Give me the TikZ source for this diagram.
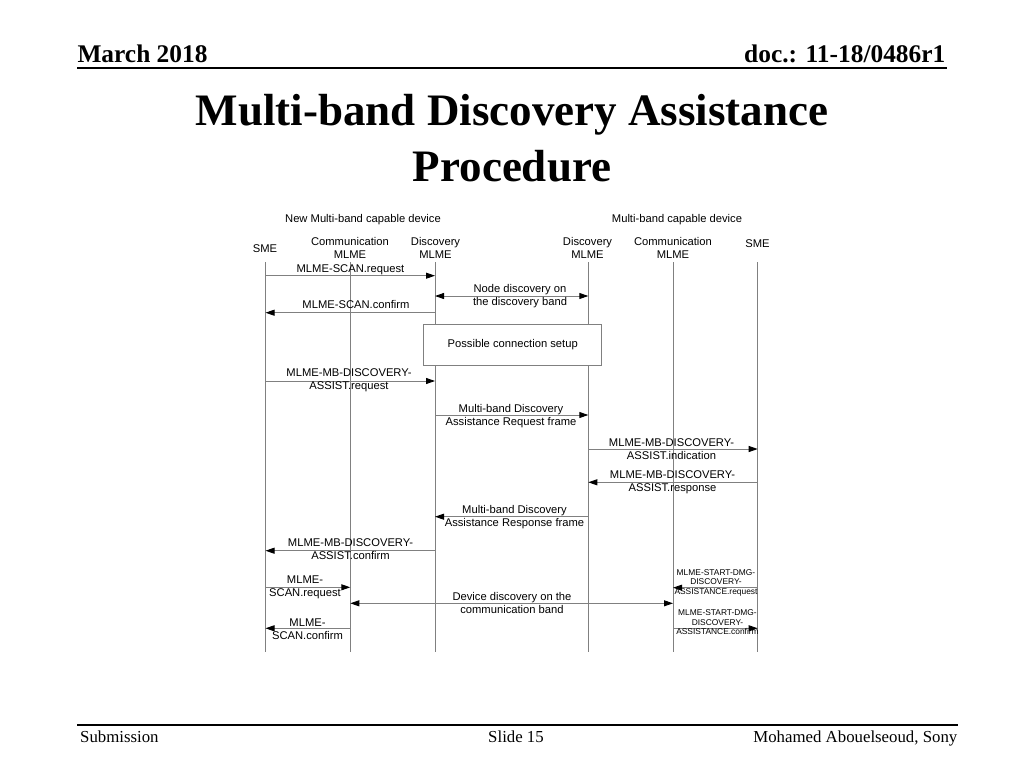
\documentclass[tikz,border=0pt]{standalone}
\usepackage{fontspec}
\setmainfont{Liberation Serif}
\newfontfamily\diagfont{Liberation Sans}
\usetikzlibrary{arrows.meta}
\definecolor{lifegray}{RGB}{128,128,128}
\begin{document}
\begin{tikzpicture}[x=1pt,y=-1pt,
  life/.style={draw=lifegray, line width=0.9pt},
  tipA/.tip={Triangle[length=9pt,width=6pt,color=black]},
  msg/.style={draw=lifegray, line width=0.9pt, -tipA},
  dmsg/.style={draw=lifegray, line width=0.9pt, tipA-tipA},
  lbl/.style={font=\diagfont\fontsize{11.2}{13}\selectfont, align=center, inner sep=0pt,
    execute at begin node=\strut, execute at end node=\strut, yshift=-1.2pt},
  slbl/.style={font=\diagfont\fontsize{8.4}{9.8}\selectfont, align=center, inner sep=0pt,
    execute at begin node=\strut, execute at end node=\strut, yshift=-1pt},
  hdr/.style={font=\fontsize{25.4}{30}\selectfont\bfseries, inner sep=0pt},
  ttl/.style={font=\fontsize{45}{56}\selectfont\bfseries, inner sep=0pt},
  ftr/.style={font=\fontsize{16.8}{20}\selectfont, inner sep=0pt},
  boxst/.style={draw=lifegray, line width=0.9pt, fill=white, minimum width=178pt,
    minimum height=40.7pt, inner sep=0pt, font=\diagfont\fontsize{11.2}{13}\selectfont}
]
\useasboundingbox (0,0) rectangle (1024,768);
\fill[white] (0,0) rectangle (1024,768);

% header
\node[hdr, anchor=base west] (hdate) at (77.3,62.3) {March 2018};
\node[hdr, anchor=base east] (hdoc) at (945.5,62.3) {doc.: 11-18/0486r1};
\coordinate (hl1) at (77,67.7);
\coordinate (hl2) at (947,67.7);
\draw[line width=2pt] (hl1) -- (hl2);

% title
\node[ttl, anchor=base] (title) at (512,125) {Multi-band Discovery Assistance};
\node[ttl, anchor=base] (title2) at (512,181) {Procedure};

% footer
\coordinate (fl1) at (77,724.7);
\coordinate (fl2) at (958,724.7);
\draw[line width=1.6pt] (fl1) -- (fl2);
\node[ftr, anchor=base west] (fsub) at (80,742) {Submission};
\node[ftr, anchor=base] (fslide) at (516,742) {Slide 15};
\node[ftr, anchor=base east] (fauth) at (957.5,742) {Mohamed Abouelseoud, Sony};

% group labels
\node[lbl] (grpL) at (363,219) {New Multi-band capable device};
\node[lbl] (grpR) at (677,219) {Multi-band capable device};

% lifeline heads
\node[lbl] (hsmeL) at (265,249) {SME};
\node[lbl] (hcomL) at (350,248.5) {Communication\\MLME};
\node[lbl] (hdisL) at (435.5,248.5) {Discovery\\MLME};
\node[lbl] (hdisR) at (587.5,248.5) {Discovery\\MLME};
\node[lbl] (hcomR) at (673,248.5) {Communication\\MLME};
\node[lbl] (hsmeR) at (757.5,244) {SME};

% lifelines
\coordinate (smeL) at (265.5,262);
\coordinate (comL) at (350.3,262);
\coordinate (disL) at (435,262);
\coordinate (disR) at (588.3,262);
\coordinate (comR) at (673,262);
\coordinate (smeR) at (757.7,262);
\coordinate (bot) at (0,652);
\foreach \c in {smeL,comL,disL,disR,comR,smeR}
  \draw[life] (\c) -- (\c |- bot);

% message levels
\coordinate (y1) at (0,275.7);
\coordinate (y2) at (0,296);
\coordinate (y3) at (0,312.7);
\coordinate (y5) at (0,381);
\coordinate (y6) at (0,415);
\coordinate (y7) at (0,449);
\coordinate (y8) at (0,482.3);
\coordinate (y9) at (0,516.7);
\coordinate (y10) at (0,550.7);
\coordinate (y11) at (0,587.3);
\coordinate (y12) at (0,603.3);
\coordinate (y13) at (0,628.3);
\coordinate (y14) at (0,587.7);
\coordinate (y15) at (0,628.3);

\draw[msg] (smeL |- y1) -- (disL |- y1);
\draw[dmsg] (disL |- y2) -- (disR |- y2);
\draw[msg] (disL |- y3) -- (smeL |- y3);

\node[boxst] (setup) at (512.7,344.7) {Possible connection setup};

\draw[msg] (smeL |- y5) -- (disL |- y5);
\draw[msg] (disL |- y6) -- (disR |- y6);
\draw[msg] (disR |- y7) -- (smeR |- y7);
\draw[msg] (smeR |- y8) -- (disR |- y8);
\draw[msg] (disR |- y9) -- (disL |- y9);
\draw[msg] (disL |- y10) -- (smeL |- y10);
\draw[msg] (smeL |- y11) -- (comL |- y11);
\draw[dmsg] (comL |- y12) -- (comR |- y12);
\draw[msg] (comL |- y13) -- (smeL |- y13);
\draw[msg] (smeR |- y14) -- (comR |- y14);
\draw[msg] (comR |- y15) -- (smeR |- y15);

% message labels
\node[lbl] (l1) at (350.5,268.3) {MLME-SCAN.request};
\node[lbl] (l2) at (520,295.5) {Node discovery on\\the discovery band};
\node[lbl] (l3) at (356,305) {MLME-SCAN.confirm};
\node[lbl] (l5) at (349,380) {MLME-MB-DISCOVERY-\\ASSIST.request};
\node[lbl] (l6) at (511,416) {Multi-band Discovery\\Assistance Request frame};
\node[lbl] (l7) at (671.5,449.5) {MLME-MB-DISCOVERY-\\ASSIST.indication};
\node[lbl] (l8) at (672.5,482) {MLME-MB-DISCOVERY-\\ASSIST.response};
\node[lbl] (l9) at (514.5,516.7) {Multi-band Discovery\\Assistance Response frame};
\node[lbl] (l10) at (350.5,550.3) {MLME-MB-DISCOVERY-\\ASSIST.confirm};
\node[lbl] (l11) at (305,587.2) {MLME-\\SCAN.request};
\node[lbl] (l12) at (512,603.5) {Device discovery on the\\communication band};
\node[lbl] (l13) at (307.5,629.7) {MLME-\\SCAN.confirm};
\node[slbl] (l14) at (716,582.5) {MLME-START-DMG-\\DISCOVERY-\\ASSISTANCE.request};
\node[slbl] (l15) at (717.5,622.7) {MLME-START-DMG-\\DISCOVERY-\\ASSISTANCE.confirm};
\end{tikzpicture}
\end{document}
